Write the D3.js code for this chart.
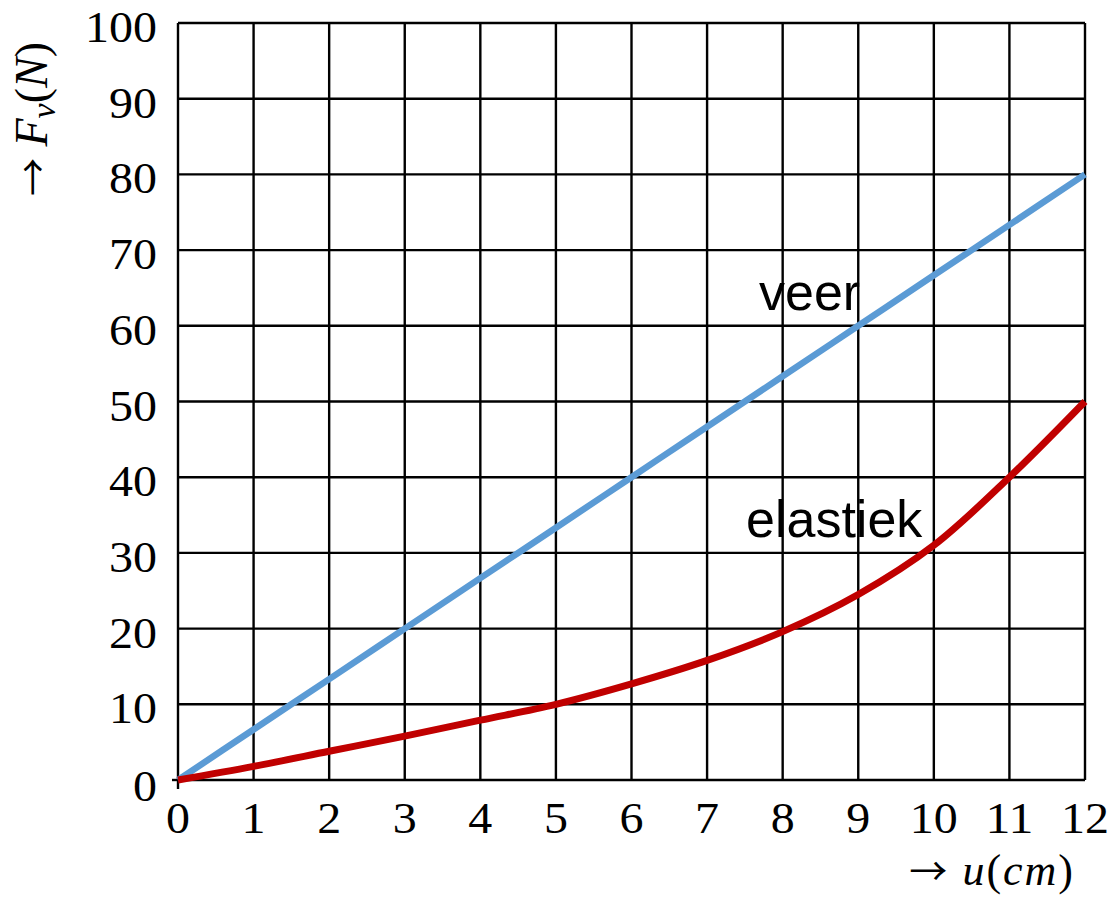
<!DOCTYPE html>
<html><head><meta charset="utf-8">
<script src="https://cdn.jsdelivr.net/npm/d3@7"></script>
<style>body{margin:0;background:#fff}</style>
</head><body>
<svg id="c" width="1117" height="897"></svg>
<script>
const xTicks = [0,1,2,3,4,5,6,7,8,9,10,11,12];
const yTicks = [0,10,20,30,40,50,60,70,80,90,100];
const uValues = [0,1,2,3,4,5,6,7,8,9,10,11,12];
const veerValues = [0,6.67,13.33,20,26.67,33.33,40,46.67,53.33,60,66.67,73.33,80];
const elastiekValues = [0,1.8,3.8,5.8,7.9,10.0,12.7,15.8,19.6,24.5,31,40,50];

const svg = d3.select('#c');
const x = d3.scaleLinear().domain([0,12]).range([178,1085]);
const y = d3.scaleLinear().domain([0,100]).range([780,23]);

const g = svg.append('g');
// grid
g.selectAll('.vg').data(xTicks).join('line')
  .attr('x1',d=>x(d)).attr('x2',d=>x(d)).attr('y1',y(100)).attr('y2',y(0))
  .attr('stroke','#000').attr('stroke-width',2.4);
g.selectAll('.hg').data(yTicks).join('line')
  .attr('x1',x(0)).attr('x2',x(12)).attr('y1',d=>y(d)).attr('y2',d=>y(d))
  .attr('stroke','#000').attr('stroke-width',2.4);
// origin ticks
g.append('line').attr('x1',x(0)-6).attr('x2',x(0)).attr('y1',y(0)).attr('y2',y(0)).attr('stroke','#000').attr('stroke-width',2.4);
g.append('line').attr('x1',x(0)).attr('x2',x(0)).attr('y1',y(0)).attr('y2',y(0)+9).attr('stroke','#000').attr('stroke-width',2.4);

// tick labels
const tf = "'Liberation Serif','DejaVu Serif',serif";
g.selectAll('.xl').data(xTicks).join('text')
  .attr('x',d=>x(d)).attr('y',833).attr('text-anchor','middle')
  .attr('font-family',tf).attr('font-size',45).attr('textLength',d=>String(d).length*24).attr('lengthAdjust','spacingAndGlyphs').text(d=>d);
g.selectAll('.yl').data(yTicks).join('text')
  .attr('x',157).attr('y',d=>y(d)+(d===0?21:19)).attr('text-anchor','end')
  .attr('font-family',tf).attr('font-size',45).attr('textLength',d=>String(d).length*24).attr('lengthAdjust','spacingAndGlyphs').text(d=>d);

// lines
const pts = vals => uValues.map((u,i)=>[u,vals[i]]);
const line = d3.line().x(d=>x(d[0])).y(d=>y(d[1])).curve(d3.curveCatmullRom.alpha(0.5));
g.append('path').attr('d',line(pts(veerValues))).attr('fill','none')
  .attr('stroke','#5B9BD5').attr('stroke-width',6.5);
g.append('path').attr('d',line(pts(elastiekValues))).attr('fill','none')
  .attr('stroke','#C00000').attr('stroke-width',7);

// series labels
const sf = "'Liberation Sans',Arial,sans-serif";
g.append('text').attr('x',759).attr('y',310).attr('font-family',sf).attr('font-size',52).text('veer');
g.append('text').attr('x',746).attr('y',537).attr('font-family',sf).attr('font-size',52).text('elastiek');

// axis titles
const af = "'Noto Sans CJK JP','DejaVu Sans',sans-serif";
const xt = g.append('text').attr('x',1075).attr('y',885).attr('text-anchor','end')
  .attr('font-family',tf).attr('font-size',44).attr('letter-spacing',2);
xt.append('tspan').attr('font-family',af).attr('font-size',38).text('→');
xt.append('tspan').text(' ');
xt.append('tspan').attr('font-style','italic').text('u');
xt.append('tspan').text('(');
xt.append('tspan').attr('font-style','italic').text('cm');
xt.append('tspan').text(')');

const yt = g.append('text').attr('transform','translate(47,196) rotate(-90)')
  .attr('font-family',tf).attr('font-size',46);
yt.append('tspan').attr('font-family',af).attr('font-size',38).text('→');
yt.append('tspan').text(' ');
yt.append('tspan').attr('font-style','italic').text('F');
yt.append('tspan').attr('font-style','italic').attr('font-size',34).attr('dy',8).text('v');
yt.append('tspan').attr('dy',-8).text('(');
yt.append('tspan').attr('font-style','italic').text('N');
yt.append('tspan').text(')');
</script>
</body></html>
